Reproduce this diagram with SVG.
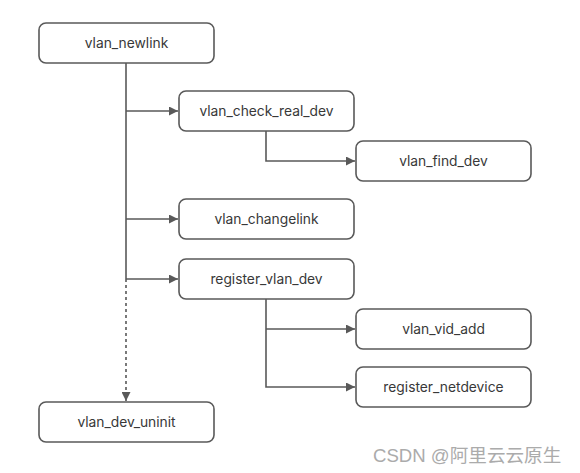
<svg xmlns="http://www.w3.org/2000/svg" width="580" height="473" viewBox="0 0 580 473">
<style>
.box{fill:#fff;stroke:#595959;stroke-width:1.6}
.lbl{font-family:Inter,"Liberation Sans",sans-serif;font-size:13.8px;fill:#383838;text-anchor:middle;dominant-baseline:central}
.ln{fill:none;stroke:#595959;stroke-width:1.6}
.dash{stroke-dasharray:3 3}
.wm{font-family:"Liberation Sans","Noto Sans CJK SC",sans-serif;font-size:18.6px;fill:#ababab}
</style>
<defs>
<marker id="ah" viewBox="0 0 10 10" refX="10" refY="5" markerWidth="9" markerHeight="9" markerUnits="userSpaceOnUse" orient="auto">
<path d="M0,0 L10,5 L0,10 z" fill="#595959"/>
</marker>
</defs>
<rect width="580" height="473" fill="#fff"/>
<g id="connectors">
<path class="ln" d="M126,63 V279" stroke-width="2"/>
<path class="ln dash" d="M126,279 V401" marker-end="url(#ah)"/>
<path class="ln" d="M126,111 H178" marker-end="url(#ah)"/>
<path class="ln" d="M126,219 H178" marker-end="url(#ah)"/>
<path class="ln" d="M126,279 H178" marker-end="url(#ah)"/>
<path class="ln" d="M266,131 V161 H355" marker-end="url(#ah)"/>
<path class="ln" d="M266,299 V387 H355" marker-end="url(#ah)"/>
<path class="ln" d="M266,329 H355" marker-end="url(#ah)"/>
</g>
<g id="vlan_newlink"><rect class="box" x="39" y="23" width="175" height="40" rx="7"/><text class="lbl" x="126.5" y="43">vlan_newlink</text></g>
<g id="vlan_check_real_dev"><rect class="box" x="179" y="91" width="175" height="40" rx="7"/><text class="lbl" x="266.5" y="111">vlan_check_real_dev</text></g>
<g id="vlan_find_dev"><rect class="box" x="356" y="141" width="175" height="40" rx="7"/><text class="lbl" x="443.5" y="161">vlan_find_dev</text></g>
<g id="vlan_changelink"><rect class="box" x="179" y="199" width="175" height="40" rx="7"/><text class="lbl" x="266.5" y="219">vlan_changelink</text></g>
<g id="register_vlan_dev"><rect class="box" x="179" y="259" width="175" height="40" rx="7"/><text class="lbl" x="266.5" y="279">register_vlan_dev</text></g>
<g id="vlan_vid_add"><rect class="box" x="356" y="309" width="175" height="40" rx="7"/><text class="lbl" x="443.5" y="329">vlan_vid_add</text></g>
<g id="register_netdevice"><rect class="box" x="356" y="367" width="175" height="40" rx="7"/><text class="lbl" x="443.5" y="387">register_netdevice</text></g>
<g id="vlan_dev_uninit"><rect class="box" x="39" y="402" width="175" height="40" rx="7"/><text class="lbl" x="126.5" y="422">vlan_dev_uninit</text></g>
<text class="wm" x="373" y="462">CSDN @阿里云云原生</text>
</svg>
